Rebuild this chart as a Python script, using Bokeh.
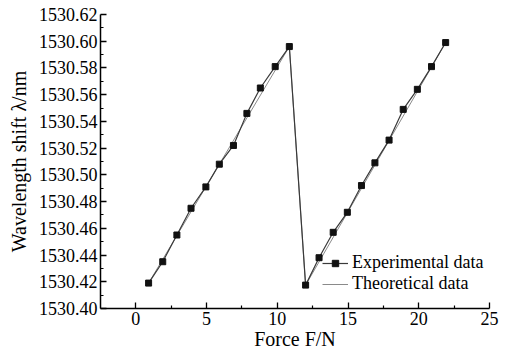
from bokeh.plotting import figure
from bokeh.models import FixedTicker, PrintfTickFormatter, Range1d, Legend, LegendItem
from bokeh.embed import file_html
from bokeh.resources import INLINE

# Experimental data (force in N, wavelength in nm)
exp_force = [0.9, 1.9, 2.9, 3.9, 4.95, 5.9, 6.9, 7.85, 8.8, 9.85, 10.85,
             12.0, 12.95, 13.95, 14.95, 15.95, 16.9, 17.9, 18.9, 19.9, 20.9, 21.9]
exp_wave = [1530.419, 1530.435, 1530.455, 1530.475, 1530.491, 1530.508, 1530.522,
            1530.546, 1530.565, 1530.581, 1530.596,
            1530.4175, 1530.438, 1530.457, 1530.472, 1530.492, 1530.509, 1530.526,
            1530.549, 1530.564, 1530.581, 1530.599]

# Theoretical (linear) data
theo_force = [0.9, 10.85, 12.0, 21.9]
theo_wave = [1530.419, 1530.596, 1530.4175, 1530.599]

x_major = [0, 5, 10, 15, 20, 25]
x_minor = [2.5, 7.5, 12.5, 17.5, 22.5]
y_major = [1530.40, 1530.42, 1530.44, 1530.46, 1530.48, 1530.50,
           1530.52, 1530.54, 1530.56, 1530.58, 1530.60, 1530.62]
y_minor = [1530.41, 1530.43, 1530.45, 1530.47, 1530.49, 1530.51,
           1530.53, 1530.55, 1530.57, 1530.59, 1530.61]

FONT = "Liberation Serif"

p = figure(width=505, height=352, output_backend="svg", toolbar_location=None,
           x_range=Range1d(-2.5, 25), y_range=Range1d(1530.40, 1530.62),
           min_border_left=100, min_border_right=16, min_border_top=14, min_border_bottom=40)
p.outline_line_color = None
p.xgrid.visible = False
p.ygrid.visible = False
p.background_fill_color = "white"
p.border_fill_color = "white"

theo = p.line(theo_force, theo_wave, line_color="#8a8a8a", line_width=1)
exp_line = p.line(exp_force, exp_wave, line_color="#3a3a3a", line_width=1.2)
exp_pts = p.scatter(exp_force, exp_wave, marker="square", size=6,
                    fill_color="#111111", line_color="#111111")

for ax in (p.xaxis[0], p.yaxis[0]):
    ax.axis_line_color = "black"
    ax.axis_line_width = 1.5
    ax.major_tick_in = 6
    ax.major_tick_out = 0
    ax.minor_tick_in = 3
    ax.minor_tick_out = 0
    ax.major_tick_line_color = "black"
    ax.minor_tick_line_color = "black"
    ax.major_tick_line_width = 1.3
    ax.minor_tick_line_width = 1.2
    ax.major_label_text_font = FONT
    ax.major_label_text_font_size = "18px"
    ax.major_label_text_color = "black"
    ax.axis_label_text_font = FONT
    ax.axis_label_text_font_size = "20px"
    ax.axis_label_text_font_style = "normal"
    ax.axis_label_text_color = "black"

p.xaxis.ticker = FixedTicker(ticks=x_major, minor_ticks=x_minor)
p.yaxis.ticker = FixedTicker(ticks=y_major, minor_ticks=y_minor)
p.yaxis.formatter = PrintfTickFormatter(format="%.2f")
p.xaxis.axis_label = "Force F/N"
p.yaxis.axis_label = "Wavelength shift λ/nm"
p.xaxis.major_label_standoff = 3
p.yaxis.major_label_standoff = 3
p.xaxis.axis_label_standoff = 0
p.yaxis.axis_label_standoff = 6

legend = Legend(items=[LegendItem(label="Experimental data", renderers=[exp_line, exp_pts]),
                       LegendItem(label="Theoretical data", renderers=[theo])],
                location=(222, 14))
legend.border_line_color = None
legend.background_fill_alpha = 0
legend.label_text_font = FONT
legend.label_text_font_size = "18px"
legend.label_text_line_height = 1.0
legend.label_text_color = "black"
legend.glyph_width = 26
legend.label_standoff = 4
legend.padding = 0
legend.spacing = 0
legend.margin = 0
legend.label_height = 16
legend.glyph_height = 16
p.add_layout(legend)

open("out.html", "w").write(file_html(p, INLINE))
